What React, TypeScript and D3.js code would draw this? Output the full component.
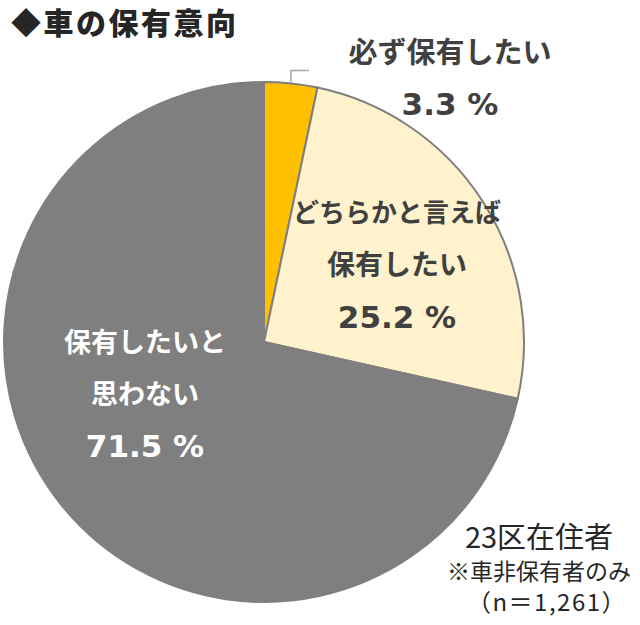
import React from "react";
import * as d3 from "d3";

const categories = ["必ず保有したい", "どちらかと言えば保有したい", "保有したいと思わない"];
const values = [3.3, 25.2, 71.5];
const colors = ["#FFC000", "#FFF2CC", "#7F7F7F"];

const W = 640;
const H = 625;
const cx = 264;
const cy = 342;
const R = 260;

const FONT = "'Noto Sans CJK JP', 'Noto Sans', sans-serif";
const NUMFONT = "'DejaVu Sans', 'Noto Sans', sans-serif";

export default function App() {
  const pie = d3.pie<number>().sort(null).value((d) => d);
  const arcs = pie(values);
  const arcGen = d3.arc<d3.PieArcDatum<number>>().innerRadius(0).outerRadius(R);

  const a0 = (arcs[0].startAngle + arcs[0].endAngle) / 2;
  const lx = cx + R * Math.sin(a0);
  const ly = cy - R * Math.cos(a0);

  const dark = "#404040";
  return (
    <svg width={W} height={H} style={{ position: "absolute", left: 0, top: 0 }} fontFamily={FONT}>
      <rect width={W} height={H} fill="#fff" />
      <text x={11} y={34} fontSize={30} fontWeight={900} fill="#262626" letterSpacing={2.5}>
        ◆車の保有意向
      </text>
      <g transform={`translate(${cx},${cy})`}>
        {arcs.map((a, i) => (
          <path key={i} d={arcGen(a) || ""} fill={colors[i]} stroke="#7F7F7F" strokeWidth={2} />
        ))}
      </g>
      <polyline
        points={`${lx},${ly - 1} ${lx},${ly - 13} ${lx + 18},${ly - 13}`}
        fill="none"
        stroke="#A6A6A6"
        strokeWidth={1.5}
      />
      <g fontWeight={700} fontSize={29} textAnchor="middle" fill={dark}>
        <text x={450} y={63}>必ず保有したい</text>
        <text x={450} y={115} fontFamily={NUMFONT} fontSize={31}>{`${values[0]} %`}</text>
        <text x={397} y={222} fontSize={26}>どちらかと言えば</text>
        <text x={397} y={275} fontSize={28}>保有したい</text>
        <text x={397} y={328} fontFamily={NUMFONT} fontSize={31}>{`${values[1]} %`}</text>
      </g>
      <g fontWeight={700} fontSize={27} textAnchor="middle" fill="#fff">
        <text x={145} y={352}>保有したいと</text>
        <text x={145} y={404}>思わない</text>
        <text x={145} y={457} fontFamily={NUMFONT} fontSize={31}>{`${values[2]} %`}</text>
      </g>
      <g textAnchor="middle" fill="#262626">
        <text x={539} y={548} fontSize={29}>23区在住者</text>
        <text x={539} y={580} fontSize={23}>※車非保有者のみ</text>
        <text x={547} y={611} fontSize={24} letterSpacing={1.5}>（n＝1,261）</text>
      </g>
    </svg>
  );
}
